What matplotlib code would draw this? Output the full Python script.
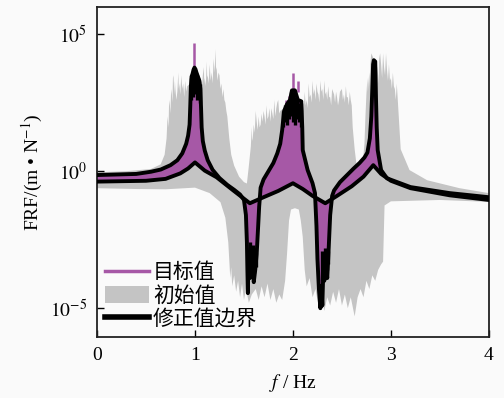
import numpy as np
import matplotlib
matplotlib.use("Agg")
from matplotlib import pyplot as plt
from matplotlib.lines import Line2D
from matplotlib.patches import Patch

# colours
PURPLE = "#a658a6"
GRAY = "#c4c4c4"
BG = "#fafafa"

## data, values are log10 of FRF (m/N)
# black boundary curve with the resonance peaks and anti-resonance troughs
p_f = [0.00, 0.40, 0.55, 0.65, 0.75, 0.82, 0.87, 0.91, 0.93, 0.945, 0.952, 0.958,
       0.965, 0.975, 0.985, 0.995, 1.005, 1.015, 1.03, 1.045, 1.055, 1.062, 1.068,
       1.08, 1.10, 1.13, 1.18, 1.25, 1.33, 1.40, 1.46, 1.50, 1.52, 1.53, 1.535,
       1.54, 1.545, 1.55, 1.56, 1.57, 1.58, 1.59, 1.60, 1.615, 1.63, 1.645, 1.655,
       1.67, 1.70, 1.75, 1.80, 1.84, 1.87, 1.89, 1.90, 1.91, 1.94, 1.97, 1.99,
       2.02, 2.05, 2.085, 2.095, 2.10, 2.15, 2.20, 2.225, 2.24, 2.25, 2.265, 2.28,
       2.29, 2.30, 2.31, 2.32, 2.335, 2.35, 2.365, 2.38, 2.40, 2.42, 2.48, 2.55,
       2.62, 2.68, 2.73, 2.76, 2.785, 2.80, 2.81, 2.818, 2.826, 2.84, 2.848, 2.855,
       2.865, 2.90, 2.96, 3.20, 3.60, 4.00]
p_val = [-0.14, -0.10, -0.02, 0.06, 0.22, 0.40, 0.65, 1.00, 1.30, 1.70, 2.40, 3.10,
         3.45, 3.55, 3.70, 3.78, 3.72, 3.60, 3.45, 3.30, 3.00, 2.30, 1.60,
         1.10, 0.75, 0.40, 0.05, -0.25, -0.50, -0.68, -0.85, -1.05, -1.60, -2.60, -3.60,
         -4.45, -3.40, -3.00, -3.90, -3.20, -3.70, -3.30, -4.05, -3.60, -3.00, -2.00, -1.30,
         -0.60, -0.30, 0.00, 0.30, 0.65, 1.00, 1.50, 1.86, 2.20, 2.45, 2.60, 2.95,
         2.95, 2.60, 2.55, 1.60, 0.77, 0.04, -0.44, -0.80, -2.00, -3.20, -4.30, -5.00,
         -4.20, -4.90, -3.60, -4.00, -3.30, -3.90, -2.80, -1.60, -0.90, -0.70, -0.40, -0.15,
         0.10, 0.30, 0.50, 0.68, 1.20, 2.00, 3.00, 3.90, 4.05, 4.00, 2.60, 1.60,
         0.77, 0.04, -0.26, -0.58, -0.80, -0.95]

# black boundary curve with the cusps
k_f = [0.00, 0.50, 0.70, 0.85, 0.93, 1.00, 1.10, 1.22, 1.39, 1.56, 1.70, 1.85,
       2.00, 2.10, 2.20, 2.33, 2.45, 2.60, 2.72, 2.82, 2.90, 3.00, 3.20, 3.60, 4.00]
k_val = [-0.38, -0.35, -0.28, -0.08, 0.10, 0.32, 0.02, -0.22, -0.70, -1.17, -0.95, -0.72,
         -0.44, -0.65, -0.90, -1.17, -0.90, -0.55, -0.20, 0.22, -0.10, -0.35, -0.62, -0.88, -1.05]

# initial values (gray band), upper and lower edge
gu_f = [0.00, 0.30, 0.55, 0.65, 0.69, 0.71, 0.72, 0.73, 0.735, 0.74, 0.75, 0.755, 0.76,
        0.77, 0.775, 0.78, 0.79, 0.795, 0.80, 0.81, 0.82, 0.83, 0.835, 0.84, 0.85, 0.86,
        0.87, 0.88, 0.89, 0.90, 0.91, 0.92, 0.95, 1.05, 1.07, 1.08, 1.09, 1.095, 1.10,
        1.11, 1.12, 1.125, 1.13, 1.14, 1.15, 1.16, 1.17, 1.18, 1.19, 1.20, 1.21, 1.215,
        1.22, 1.23, 1.24, 1.25, 1.26, 1.27, 1.28, 1.29, 1.30, 1.31, 1.32, 1.33, 1.35,
        1.37, 1.40, 1.45, 1.50, 1.53, 1.55, 1.57, 1.58, 1.585, 1.59, 1.60, 1.61, 1.62,
        1.63, 1.64, 1.65, 1.66, 1.67, 1.68, 1.69, 1.70, 1.71, 1.72, 1.73, 1.74, 1.75,
        1.76, 1.77, 1.78, 1.79, 1.80, 1.81, 1.82, 1.83, 1.84, 1.85, 1.86, 1.87, 1.95,
        2.05, 2.10, 2.11, 2.12, 2.13, 2.14, 2.15, 2.16, 2.17, 2.18, 2.19, 2.20, 2.21,
        2.22, 2.23, 2.24, 2.25, 2.26, 2.27, 2.28, 2.29, 2.30, 2.31, 2.32, 2.33, 2.34,
        2.35, 2.36, 2.37, 2.38, 2.39, 2.40, 2.42, 2.43, 2.44, 2.45, 2.46, 2.47, 2.48,
        2.50, 2.51, 2.52, 2.53, 2.54, 2.55, 2.56, 2.57, 2.58, 2.59, 2.60, 2.61, 2.63,
        2.65, 2.68, 2.71, 2.73, 2.74, 2.75, 2.76, 2.765, 2.77, 2.78, 2.785, 2.79, 2.80,
        2.86, 2.87, 2.875, 2.88, 2.89, 2.90, 2.91, 2.92, 2.93, 2.94, 2.95, 2.96, 2.97,
        2.98, 2.99, 3.00, 3.01, 3.02, 3.03, 3.04, 3.05, 3.06, 3.08, 3.10, 3.19, 3.37,
        3.70, 4.00]
gu_val = [-0.04, 0.00, 0.08, 0.25, 0.60, 1.20, 2.00, 1.60, 2.40, 2.60, 2.10, 2.80, 3.00,
          2.50, 3.40, 3.50, 2.80, 3.30, 3.00, 2.60, 2.90, 3.60, 3.00, 3.20, 2.80, 3.50,
          3.00, 3.20, 2.70, 3.30, 2.90, 3.10, 3.20, 3.30, 3.00, 3.50, 3.80, 3.20, 3.40,
          3.10, 4.00, 3.40, 3.50, 3.20, 3.90, 3.30, 3.60, 3.20, 4.10, 3.60, 4.45, 3.70,
          3.80, 3.30, 3.60, 3.50, 3.00, 3.20, 2.70, 3.00, 2.60, 2.50, 2.20, 2.00, 1.20,
          0.60, 0.20, -0.20, -0.40, -0.45, 0.20, 0.90, 1.60, 1.10, 1.20, 1.70, 1.40, 2.20,
          1.80, 1.50, 2.00, 1.60, 1.70, 2.10, 1.80, 2.20, 2.00, 1.70, 2.40, 1.90, 2.00,
          2.30, 1.80, 2.30, 2.10, 1.90, 2.60, 2.00, 2.30, 2.50, 2.60, 2.10, 2.20, 2.40,
          2.60, 2.50, 2.20, 2.90, 2.40, 2.60, 2.30, 3.20, 2.70, 2.80, 2.50, 3.30, 2.80,
          3.00, 2.60, 3.20, 2.90, 2.80, 2.50, 3.30, 2.90, 3.00, 2.60, 3.30, 2.80, 2.90,
          2.60, 3.10, 2.70, 2.70, 2.40, 3.00, 2.80, 2.50, 2.90, 2.70, 2.40, 2.60, 2.90,
          3.00, 2.60, 2.80, 2.50, 3.10, 2.70, 2.70, 2.40, 2.90, 2.60, 2.40, 1.60, 0.80,
          0.20, 0.05, 0.20, 1.00, 2.00, 2.80, 3.40, 2.90, 3.20, 3.60, 3.10, 3.90, 4.30,
          3.80, 3.50, 3.20, 4.10, 4.30, 3.90, 3.40, 4.30, 3.80, 3.50, 4.30, 3.70, 3.30,
          3.90, 3.30, 3.40, 3.00, 3.60, 3.10, 3.00, 2.60, 3.20, 2.00, 0.80, 0.04, -0.33,
          -0.62, -0.80]

gl_f = [0.00, 0.40, 0.70, 0.90, 1.00, 1.15, 1.26, 1.31, 1.34, 1.36, 1.37, 1.38, 1.40,
        1.42, 1.44, 1.46, 1.48, 1.50, 1.52, 1.55, 1.58, 1.62, 1.65, 1.68, 1.71, 1.74,
        1.77, 1.80, 1.83, 1.86, 1.89, 1.92, 1.94, 1.96, 1.98, 2.02, 2.06, 2.08, 2.10,
        2.12, 2.14, 2.17, 2.20, 2.23, 2.26, 2.29, 2.32, 2.35, 2.38, 2.41, 2.44, 2.47,
        2.50, 2.53, 2.56, 2.59, 2.63, 2.66, 2.69, 2.72, 2.75, 2.78, 2.81, 2.84, 2.87,
        2.90, 2.92, 2.935, 3.00, 3.50, 4.00]
gl_val = [-0.62, -0.65, -0.66, -0.62, -0.60, -0.80, -1.13, -1.70, -2.60, -3.90, -3.50, -4.20, -3.80,
          -4.40, -4.00, -4.60, -4.10, -4.70, -4.30, -4.80, -4.50, -4.30, -4.70, -4.20, -4.60, -4.10,
          -4.70, -4.30, -4.80, -4.50, -4.70, -4.00, -3.00, -1.80, -1.40, -1.35, -1.40, -1.80, -2.40,
          -3.60, -4.20, -3.90, -4.60, -4.30, -4.90, -4.50, -5.10, -4.60, -4.90, -4.40, -4.80, -4.30,
          -4.90, -4.50, -5.00, -4.60, -5.30, -4.60, -4.30, -4.60, -4.00, -4.30, -3.80, -4.00, -3.60,
          -3.40, -3.30, -1.25, -1.10, -1.05, -1.12]

# target value spikes above the band (purple)
spike_f = [0.993, 1.93, 1.96, 2.00, 2.05]
spike_lo = [3.60, 2.30, 2.40, 2.90, 2.90]
spike_hi = [4.67, 2.60, 2.75, 3.60, 3.30]

# scatter of the boundary values at peaks and troughs (black)
noise_f = [0.96, 0.97, 0.98, 0.99, 1.00, 1.01, 1.02, 1.03, 1.04, 1.05,
           1.90, 1.92, 1.94, 1.96, 1.98, 2.00, 2.02, 2.04, 2.06, 2.08,
           1.56, 1.575, 1.59, 1.605, 1.62, 2.30, 2.315, 2.33, 2.345, 2.36]
noise_lo = [2.6, 2.9, 2.7, 3.0, 2.8, 2.9, 2.6, 2.8, 2.7, 2.5,
            1.6, 1.8, 1.7, 1.9, 2.0, 1.8, 1.7, 1.9, 1.8, 1.6,
            -3.9, -3.6, -3.8, -3.7, -3.5, -4.0, -3.7, -3.9, -3.6, -3.4]
noise_hi = [3.4, 3.5, 3.6, 3.7, 3.7, 3.6, 3.5, 3.4, 3.3, 3.2,
            2.2, 2.4, 2.5, 2.6, 2.9, 2.9, 2.7, 2.6, 2.5, 2.5,
            -2.6, -2.8, -2.7, -2.9, -3.0, -2.9, -3.0, -2.8, -3.1, -2.9]

labels = ["目标值", "初始值", "修正值边界"]


def pw(v):
    return 10.0 ** np.asarray(v)


plt.rcParams["font.family"] = ["Liberation Serif", "Noto Sans CJK SC"]
plt.rcParams["mathtext.fontset"] = "stix"

fig = plt.figure(figsize=(5.04, 3.98), dpi=100, facecolor=BG)
ax = fig.add_axes([0.1925, 0.1533, 0.7775, 0.829])
ax.set_facecolor(BG)
ax.set_yscale("log")

# gray band
ax.fill(np.r_[gu_f, gl_f[::-1]], pw(np.r_[gu_val, gl_val[::-1]]), color=GRAY, lw=0, zorder=1)
# purple band between the two boundary curves
ax.fill(np.r_[p_f, k_f[::-1]], pw(np.r_[p_val, k_val[::-1]]), color=PURPLE, lw=0, zorder=2)
ax.vlines(spike_f, pw(spike_lo), pw(spike_hi), color=PURPLE, lw=1.8, zorder=2.5)
# boundaries
ax.vlines(noise_f, pw(noise_lo), pw(noise_hi), color="black", lw=2.4, zorder=3)
ax.plot(p_f, pw(p_val), color="black", lw=2.8, solid_joinstyle="round", zorder=3)
ax.plot(k_f, pw(k_val), color="black", lw=2.8, solid_joinstyle="round", zorder=3)

ax.set_xlim(0, 4)
ax.set_ylim(10 ** -6.05, 10 ** 5.99)
ax.set_xticks([0, 1, 2, 3, 4])
ax.set_yticks([1e-5, 1e0, 1e5])
ax.set_yticklabels([r"$10^{-5}$", r"$10^{0}$", r"$10^{5}$"])
ax.minorticks_off()
ax.tick_params(direction="in", length=5, width=1.0, labelsize=14, pad=7)
for s in ax.spines.values():
    s.set_linewidth(1.3)
    s.set_color("#222222")

ax.set_xlabel(r"$f$ / Hz", fontsize=14, labelpad=6)
ax.set_ylabel(r"FRF/(m • N$^{-1}$)", fontsize=14, labelpad=4)

handles = [Line2D([], [], color=PURPLE, lw=2.5),
           Patch(facecolor=GRAY, edgecolor="none"),
           Line2D([], [], color="black", lw=4)]
ax.legend(handles, labels, loc="lower left", bbox_to_anchor=(0.01, 0.01), frameon=False,
          prop={"family": ["Noto Sans CJK SC"], "size": 15}, handlelength=2.1,
          handleheight=0.9, handletextpad=0.2, labelspacing=0.05, borderpad=0.2,
          borderaxespad=0.0)

fig.savefig("out.png", dpi=100, facecolor=BG)
